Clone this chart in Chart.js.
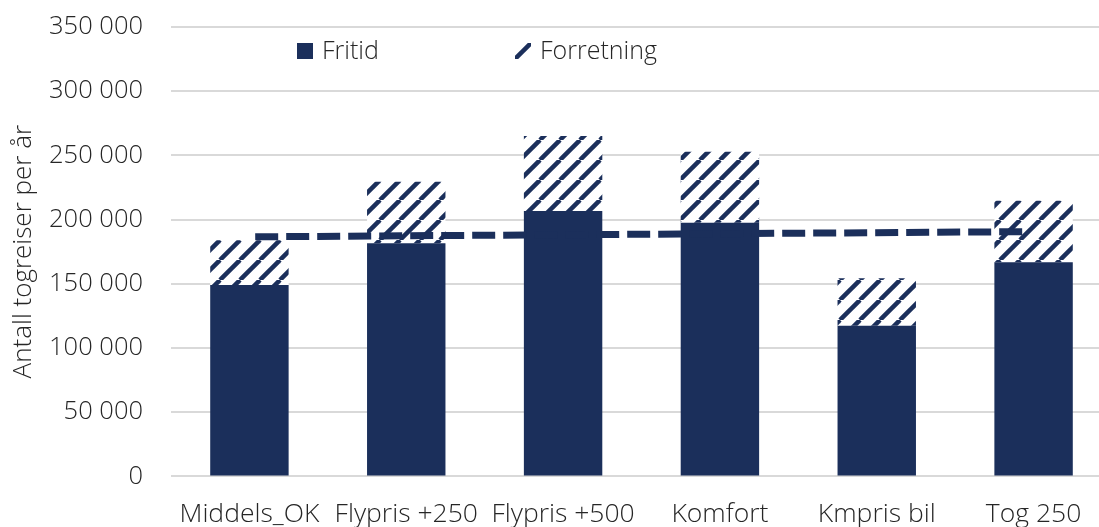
<!DOCTYPE html>
<html>
<head>
<meta charset="utf-8">
<script src="https://cdn.jsdelivr.net/npm/chart.js@4.4.1/dist/chart.umd.min.js"></script>
<style>
  html, body { margin: 0; padding: 0; background: #fff; overflow: hidden; }
  #wrap { position: relative; width: 1112px; height: 527px; }
  .legend { position: absolute; top: 33px; font: 300 25px "Open Sans", sans-serif; color: #262626; }
  .legend span.box { position: absolute; top: 10px; width: 16px; height: 16px; }
  .legend span.txt { position: absolute; left: 25px; top: -1px; white-space: nowrap; }
</style>
</head>
<body>
<div id="wrap">
  <canvas id="chart"></canvas>
  <div class="legend" style="left:297px"><span class="box" id="box0"></span><span class="txt" id="lab0"></span></div>
  <div class="legend" style="left:515px"><span class="box" id="box1"></span><span class="txt" id="lab1"></span></div>
</div>
<script>
// categories and values
const categories = ['Middels_OK', 'Flypris +250', 'Flypris +500', 'Komfort', 'Kmpris bil', 'Tog 250'];
const fritid = [149000, 181500, 206700, 197600, 117400, 166700];
const forretning = [35000, 48000, 58400, 55300, 36900, 48000];
// reference line: x in category units, y in trips
const refLineX = [-0.315, 5.32];
const refLineY = [186600, 190600];
const yTicks = { min: 0, max: 350000, step: 50000 };

const navy = '#1b2f5b';
const font = '"Open Sans", sans-serif';

// diagonal hatch for Forretning
function hatch() {
  const c = document.createElement('canvas');
  c.width = 20; c.height = 20;
  const g = c.getContext('2d');
  g.fillStyle = '#fff';
  g.fillRect(0, 0, 20, 20);
  g.strokeStyle = navy;
  g.lineWidth = 4.5;
  for (const k of [-20, 0, 20]) {
    g.beginPath();
    g.moveTo(k, 20);
    g.lineTo(k + 20, 0);
    g.stroke();
  }
  return c;
}
const hatchCanvas = hatch();
const ctx = document.getElementById('chart');
const pattern = ctx.getContext('2d').createPattern(hatchCanvas, 'repeat');

// html legend
document.getElementById('lab0').textContent = 'Fritid';
document.getElementById('lab1').textContent = 'Forretning';
document.getElementById('box0').style.background = navy;
document.getElementById('box1').style.background = 'url(' + hatchCanvas.toDataURL() + ') -4px 0';

const fmt = v => String(v).replace(/\B(?=(\d{3})+(?!\d))/g, ' ');

new Chart(ctx, {
  type: 'bar',
  data: {
    labels: categories,
    datasets: [
      {
        type: 'bar',
        label: 'Fritid',
        data: fritid,
        grouped: false,
        backgroundColor: navy,
        categoryPercentage: 1,
        barPercentage: 0.5,
        order: 2
      },
      {
        type: 'bar',
        label: 'Forretning',
        data: forretning,
        grouped: false,
        backgroundColor: pattern,
        categoryPercentage: 1,
        barPercentage: 0.5,
        order: 2
      },
      {
        type: 'line',
        label: 'Trend',
        xAxisID: 'x2',
        data: refLineX.map((x, i) => ({ x: x, y: refLineY[i] })),
        borderColor: navy,
        borderWidth: 7,
        borderDash: [23, 8],
        borderCapStyle: 'butt',
        pointRadius: 0,
        order: 0
      }
    ]
  },
  options: {
    responsive: true,
    maintainAspectRatio: false,
    animation: false,
    layout: { padding: { top: 27, right: 0, bottom: 0, left: 0 } },
    plugins: {
      legend: { display: false },
      tooltip: { enabled: false }
    },
    scales: {
      x: {
        stacked: true,
        grid: { display: false },
        border: { display: false },
        ticks: {
          color: '#262626',
          padding: 14,
          maxRotation: 0,
          font: { family: font, size: 26.5, weight: 300 }
        },
        afterFit: s => { s.height = 50.6; }
      },
      x2: {
        type: 'linear',
        display: false,
        min: -0.5,
        max: 5.5
      },
      y: {
        stacked: true,
        min: yTicks.min,
        max: yTicks.max,
        border: { display: false },
        grid: { color: '#d9d9d9', lineWidth: 2, drawTicks: false },
        ticks: {
          stepSize: yTicks.step,
          color: '#262626',
          padding: 28,
          font: { family: font, size: 25.5, weight: 300 },
          callback: v => fmt(v)
        },
        title: {
          display: true,
          text: 'Antall togreiser per år',
          color: '#262626',
          padding: { top: 8, bottom: 0 },
          font: { family: font, size: 26, weight: 300 }
        },
        // fixed axis width; the tick padding shouldn't push the plot down
        afterFit: s => {
          s.width = 171;
          s.paddingTop = 0;
          s.paddingBottom = 0;
        }
      }
    }
  }
});
</script>
</body>
</html>
